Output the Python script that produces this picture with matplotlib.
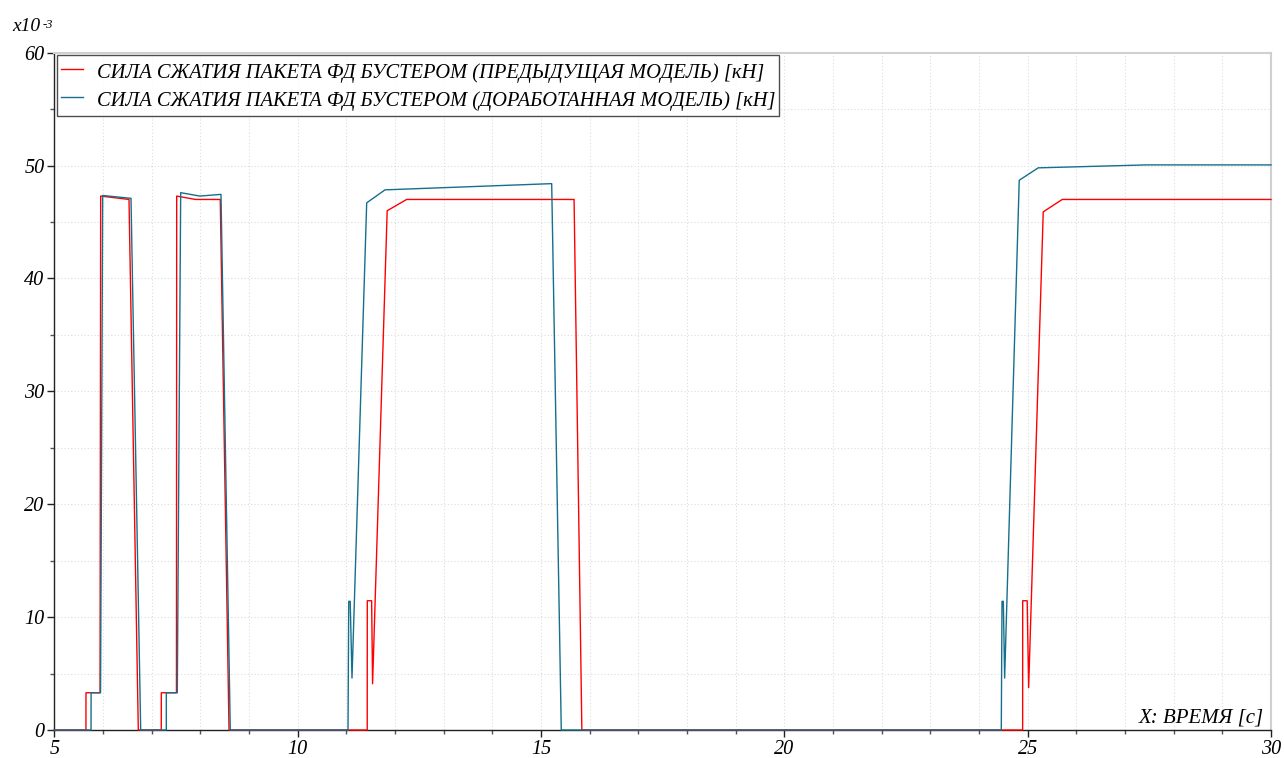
import matplotlib
matplotlib.use("Agg")
import matplotlib.pyplot as plt
from matplotlib.ticker import MultipleLocator

# ---- data (time in s, force in kN x10^-3) ----
t_prev = [5.0, 5.65, 5.651, 5.94, 5.953, 6.535, 6.726, 7.198, 7.199, 7.51, 7.515,
          7.90, 8.41, 8.59, 11.43, 11.431, 11.52, 11.54, 11.84, 12.24, 15.68, 15.84,
          24.897, 24.898, 24.99, 25.02, 25.32, 25.71, 30.0]
f_prev = [0, 0, 3.3, 3.3, 47.3, 47.0, 0, 0, 3.3, 3.3, 47.3,
          47.0, 47.0, 0, 0, 11.45, 11.45, 4.1, 46.0, 47.0, 47.0, 0,
          0, 11.45, 11.45, 3.75, 45.9, 47.0, 47.0]

t_rev = [5.0, 5.755, 5.756, 5.95, 5.994, 6.576, 6.775, 7.301, 7.302, 7.527, 7.597,
         7.99, 8.425, 8.616, 11.035, 11.05, 11.08, 11.117, 11.419, 11.795, 15.22, 15.417,
         24.458, 24.473, 24.50, 24.527, 24.827, 25.217, 27.445, 30.0]
f_rev = [0, 0, 3.3, 3.3, 47.35, 47.1, 0, 0, 3.3, 3.3, 47.6,
         47.3, 47.45, 0, 0, 11.4, 11.4, 4.6, 46.7, 47.85, 48.4, 0,
         0, 11.4, 11.4, 4.6, 48.7, 49.8, 50.06, 50.06]

label_prev = "СИЛА СЖАТИЯ ПАКЕТА ФД БУСТЕРОМ (ПРЕДЫДУЩАЯ МОДЕЛЬ) [кН]"
label_rev = "СИЛА СЖАТИЯ ПАКЕТА ФД БУСТЕРОМ (ДОРАБОТАННАЯ МОДЕЛЬ) [кН]"
x_label = "X: ВРЕМЯ [с]"
y_scale_label = "x10"
y_scale_exp = "-3"

x_range = (5, 30)
y_range = (0, 60)

# ---- style ----
plt.rcParams['font.family'] = ['Liberation Serif', 'DejaVu Serif']
plt.rcParams['font.style'] = 'italic'

W, H = 1284, 758
fig = plt.figure(figsize=(W / 100, H / 100), dpi=100)
left, right, bottom, top = 54.3 / W, 1271 / W, 1 - 730 / H, 1 - 52.7 / H
ax = fig.add_axes([left, bottom, right - left, top - bottom])

red = '#ff0000'
teal = '#156f8d'

ax.plot(t_prev, f_prev, color=red, lw=1.0, label=label_prev, zorder=3, clip_on=False)
ax.plot(t_rev, f_rev, color=teal, lw=1.0, label=label_rev, zorder=4, clip_on=False)

ax.set_xlim(*x_range)
ax.set_ylim(*y_range)

ax.xaxis.set_major_locator(MultipleLocator(5))
ax.xaxis.set_minor_locator(MultipleLocator(1))
ax.yaxis.set_major_locator(MultipleLocator(10))
ax.yaxis.set_minor_locator(MultipleLocator(5))

ax.grid(which='both', color='#dcdcdc', linestyle=(0, (1, 2)), linewidth=0.8, zorder=0)

ax.tick_params(which='major', direction='out', length=5, width=1, color='#222222',
               labelsize=14.5, pad=2)
ax.tick_params(which='minor', direction='out', length=3, width=1, color='#555555')

for lab in ax.get_xticklabels() + ax.get_yticklabels():
    lab.set_fontstyle('italic')

for s in ('left', 'bottom'):
    ax.spines[s].set_color('#222222')
    ax.spines[s].set_linewidth(1.0)
for s in ('top', 'right'):
    ax.spines[s].set_color('#d0d0d0')
    ax.spines[s].set_linewidth(1.5)

leg = ax.legend(loc='upper left', bbox_to_anchor=(0.0022, 0.9966), borderaxespad=0,
                frameon=True, fancybox=False, edgecolor='#222222',
                handlelength=1.08, handleheight=1.45, handletextpad=0.65,
                borderpad=0.2, labelspacing=0.2,
                prop={'family': 'Liberation Serif', 'style': 'italic', 'size': 14.75})
leg.get_frame().set_linewidth(1.0)

ax.text(0.9943, 0.0118, x_label, transform=ax.transAxes, ha='right', va='baseline',
        fontsize=15, fontstyle='italic')

fig.text(12 / W, 1 - 31 / H, y_scale_label, ha='left', va='baseline', fontsize=14,
         fontstyle='italic')
fig.text(43 / W, 1 - 28 / H, y_scale_exp, ha='left', va='baseline', fontsize=9,
         fontstyle='italic')

fig.savefig('out.png', dpi=100)
